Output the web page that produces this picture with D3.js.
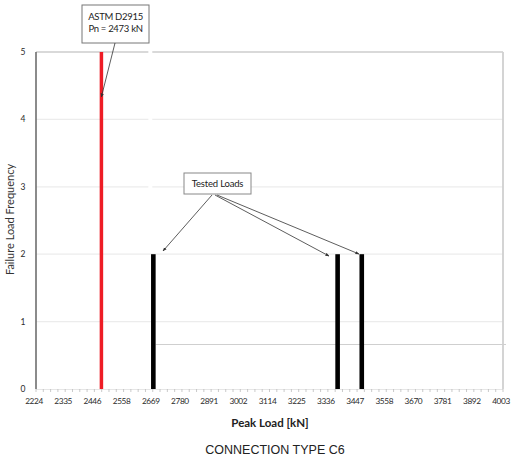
<!DOCTYPE html>
<html>
<head>
<meta charset="utf-8">
<script src="https://cdn.jsdelivr.net/npm/d3@7"></script>
<style>
  body { margin: 0; background: #fff; }
  svg { display: block; }
</style>
</head>
<body>
<div id="container"></div>
<script>
/* DATA */
const tickLabels = ["2224", "2335", "2446", "2558", "2669", "2780", "2891", "3002", "3114",
                    "3225", "3336", "3447", "3558", "3670", "3781", "3892", "4003"];
const testedLoads = [2671, 3373, 3465];   // kN
const testedFreq = [2, 2, 2];
const designLoad = 2473;                  // ASTM D2915 Pn
const designFreq = 5;
const yTicks = [0, 1, 2, 3, 4, 5];

/* CONSTANTS */
const W = 516, H = 457;
const margin = { top: 52, right: 13, bottom: 68, left: 36 };
const innerW = W - margin.left - margin.right,
      innerH = H - margin.top - margin.bottom;

const svg = d3.select("#container").append("svg")
  .attr("width", W)
  .attr("height", H);

const g = svg.append("g")
  .attr("transform", `translate(${margin.left},${margin.top})`);

const x = d3.scaleLinear().domain([2224, 4003]).range([0, innerW]);
const y = d3.scaleLinear().domain([0, 5]).range([innerH, 0]);

// gridlines
g.selectAll(".grid")
  .data(yTicks.filter(d => d > 0))
  .join("line")
  .attr("x1", 0).attr("x2", innerW)
  .attr("y1", d => y(d)).attr("y2", d => y(d))
  .attr("stroke", d => d === 5 ? "#b4b4b4" : "#ececec")
  .attr("stroke-width", 1.2);

// small white gap seen in the upper gridlines
g.append("rect")
  .attr("x", x(2652)).attr("y", y(5) - 2)
  .attr("width", x(2667) - x(2652)).attr("height", y(2.6) - y(5))
  .attr("fill", "#fff");

// stray horizontal rule from the scanned page
g.append("line")
  .attr("x1", x(2680)).attr("x2", innerW + 3)
  .attr("y1", y(0.66)).attr("y2", y(0.66))
  .attr("stroke", "#cfcfcf")
  .attr("stroke-width", 1.2);

// right frame
g.append("line")
  .attr("x1", innerW).attr("x2", innerW)
  .attr("y1", 0).attr("y2", innerH)
  .attr("stroke", "#d0d0d0")
  .attr("stroke-width", 1.8);

// x axis: labels every 4 minor ticks
const minor = d3.range(65).map(i => 2224 + i * (4003 - 2224) / 64);
g.append("line")
  .attr("x1", 0).attr("x2", innerW)
  .attr("y1", innerH + 0.5).attr("y2", innerH + 0.5)
  .attr("stroke", "#e6e6e6");
g.selectAll(".mtick")
  .data(minor)
  .join("line")
  .attr("x1", d => x(d)).attr("x2", d => x(d))
  .attr("y1", innerH).attr("y2", innerH + 3)
  .attr("stroke", "#bdbdbd")
  .attr("stroke-width", 0.8);

g.selectAll(".xlab")
  .data(tickLabels)
  .join("text")
  .attr("x", (d, i) => x(minor[i * 4]) - 2)
  .attr("y", innerH + 15)
  .attr("text-anchor", "middle")
  .attr("font-family", "Lato, sans-serif")
  .attr("font-size", 8.3)
  .attr("letter-spacing", -0.4)
  .attr("fill", "#2a2a2a")
  .text(d => d);

// y axis
g.append("line")
  .attr("x1", 0).attr("x2", 0)
  .attr("y1", 0).attr("y2", innerH)
  .attr("stroke", "#6e6e6e")
  .attr("stroke-width", 1.6);

g.selectAll(".ylab")
  .data(yTicks)
  .join("text")
  .attr("x", -13)
  .attr("y", d => y(d) + 3)
  .attr("text-anchor", "middle")
  .attr("font-family", "Lato, sans-serif")
  .attr("font-size", 8.5)
  .attr("fill", "#2a2a2a")
  .text(d => d);

// bars
g.append("rect")
  .attr("x", x(designLoad) - 1.7)
  .attr("y", y(designFreq))
  .attr("width", 3.5)
  .attr("height", innerH - y(designFreq))
  .attr("fill", "#ee1c25");

g.selectAll(".bar")
  .data(testedLoads)
  .join("rect")
  .attr("x", d => x(d) - 2.3)
  .attr("y", (d, i) => y(testedFreq[i]))
  .attr("width", 4.6)
  .attr("height", (d, i) => innerH - y(testedFreq[i]))
  .attr("fill", "#000");

// arrow marker
svg.append("defs").append("marker")
  .attr("id", "arr")
  .attr("viewBox", "0 0 10 10")
  .attr("refX", 9).attr("refY", 5)
  .attr("markerWidth", 5).attr("markerHeight", 5)
  .attr("orient", "auto")
  .append("path")
  .attr("d", "M0,1 L10,5 L0,9 z")
  .attr("fill", "#333");

// callout: ASTM D2915
const c1 = svg.append("g");
c1.append("rect")
  .attr("x", 82).attr("y", 5).attr("width", 67).attr("height", 38)
  .attr("fill", "#fff").attr("stroke", "#777").attr("stroke-width", 1);
c1.selectAll("text")
  .data(["ASTM D2915", "Pn = 2473 kN"])
  .join("text")
  .attr("x", 115.5)
  .attr("y", (d, i) => 20 + i * 12)
  .attr("text-anchor", "middle")
  .attr("font-family", "Lato, sans-serif")
  .attr("font-size", 9.5)
  .attr("letter-spacing", -0.3)
  .attr("fill", "#222")
  .text(d => d);
c1.append("line")
  .attr("x1", 115).attr("y1", 43)
  .attr("x2", margin.left + x(designLoad)).attr("y2", 97)
  .attr("stroke", "#333").attr("stroke-width", 0.8)
  .attr("marker-end", "url(#arr)");

// callout: Tested Loads
const c2 = svg.append("g");
const arrowEnds = [[163, 251], [329, 256], [359, 254]];
const arrowStarts = [[212, 195], [215, 195], [217, 195]];
c2.selectAll("line")
  .data(arrowEnds)
  .join("line")
  .attr("x1", (d, i) => arrowStarts[i][0]).attr("y1", (d, i) => arrowStarts[i][1])
  .attr("x2", d => d[0]).attr("y2", d => d[1])
  .attr("stroke", "#333").attr("stroke-width", 0.8)
  .attr("marker-end", "url(#arr)");
c2.append("rect")
  .attr("x", 184).attr("y", 173).attr("width", 67).attr("height", 21)
  .attr("fill", "#fff").attr("stroke", "#888").attr("stroke-width", 1);
c2.append("text")
  .attr("x", 217.5).attr("y", 187)
  .attr("text-anchor", "middle")
  .attr("font-family", "Lato, sans-serif")
  .attr("font-size", 9.5)
  .attr("letter-spacing", -0.2)
  .attr("fill", "#222")
  .text("Tested Loads");

// axis titles
svg.append("text")
  .attr("transform", `translate(14,${margin.top + innerH / 2 - 1}) rotate(-90)`)
  .attr("text-anchor", "middle")
  .attr("font-family", "Lato, sans-serif")
  .attr("font-size", 11)
  .attr("fill", "#333")
  .text("Failure Load Frequency");

svg.append("text")
  .attr("x", 270).attr("y", 427)
  .attr("text-anchor", "middle")
  .attr("font-family", "Lato, sans-serif")
  .attr("font-weight", "bold")
  .attr("font-size", 11.5)
  .attr("fill", "#222")
  .text("Peak Load [kN]");

svg.append("text")
  .attr("x", 275).attr("y", 454)
  .attr("text-anchor", "middle")
  .attr("font-family", "Liberation Sans, Arial, sans-serif")
  .attr("font-size", 12.5)
  .attr("fill", "#222")
  .text("CONNECTION TYPE C6");
</script>
</body>
</html>
